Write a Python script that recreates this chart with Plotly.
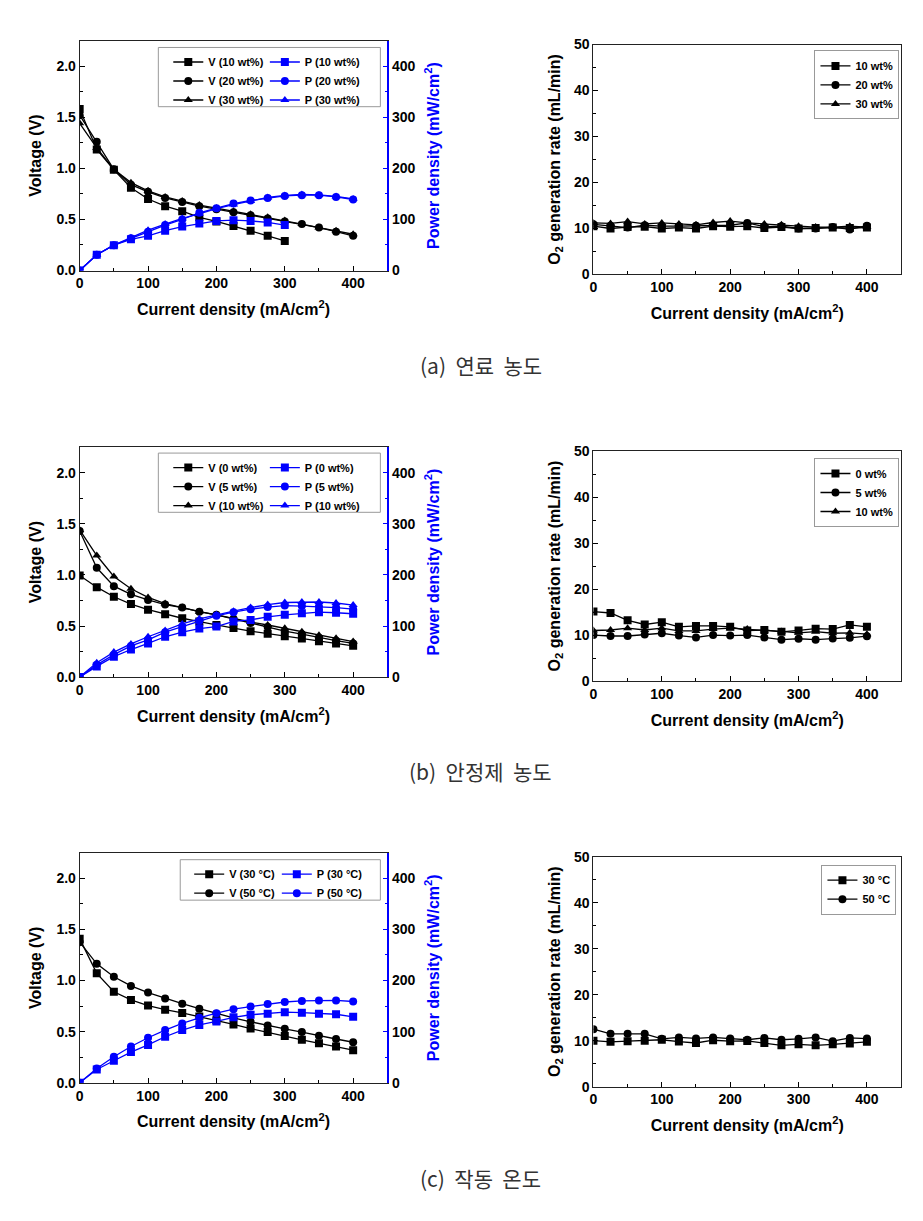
import plotly.graph_objects as go

W, H = 923, 1221

# ---------------- data ----------------
current = [0, 25, 50, 75, 100, 125, 150, 175, 200, 225, 250, 275, 300, 325, 350, 375, 400]
current_short = [0, 25, 50, 75, 100, 125, 150, 175, 200, 225, 250, 275, 300]

# (a) fuel concentration
a_labels = ["10 wt%", "20 wt%", "30 wt%"]
a_V10 = [1.58, 1.185, 0.985, 0.81, 0.70, 0.63, 0.58, 0.52, 0.48, 0.435, 0.39, 0.34, 0.29]
a_V20 = [1.52, 1.26, 0.99, 0.84, 0.77, 0.71, 0.67, 0.63, 0.60, 0.57, 0.54, 0.51, 0.48, 0.455, 0.42, 0.38, 0.34]
a_V30 = [1.44, 1.20, 0.99, 0.86, 0.78, 0.72, 0.68, 0.64, 0.61, 0.58, 0.55, 0.52, 0.49, 0.455, 0.42, 0.39, 0.355]
a_P10 = [0, 31, 49.6, 61, 68, 78, 86, 92, 97, 98.5, 97, 94, 89]
a_P20 = [0, 31, 49.6, 63, 76, 89, 100, 113, 122, 131, 137, 142, 146, 147.5, 147.5, 144, 139]
a_P30 = [0, 31, 49.6, 64, 79, 91, 102, 111, 121, 129, 136, 143, 147, 149, 148, 145, 140]
a_O10 = [10.5, 10.0, 10.3, 10.4, 10.0, 10.2, 10.0, 10.5, 10.4, 10.5, 10.1, 10.3, 10.0, 10.1, 10.2, 10.1, 10.2]
a_O20 = [10.9, 10.6, 10.2, 10.7, 10.5, 10.5, 10.6, 10.6, 10.7, 11.2, 10.4, 10.5, 10.0, 10.0, 10.3, 9.8, 10.6]
a_O30 = [11.2, 11.1, 11.5, 11.0, 11.2, 11.0, 10.8, 11.3, 11.6, 11.2, 11.0, 10.8, 10.5, 10.3, 10.3, 10.5, 10.3]

# (b) stabilizer concentration
b_labels = ["0 wt%", "5 wt%", "10 wt%"]
b_V0 = [0.995, 0.88, 0.786, 0.715, 0.66, 0.615, 0.576, 0.544, 0.51, 0.48, 0.45, 0.425, 0.40, 0.377, 0.35, 0.33, 0.306]
b_V5 = [1.43, 1.07, 0.89, 0.81, 0.755, 0.71, 0.68, 0.64, 0.61, 0.57, 0.53, 0.49, 0.45, 0.42, 0.386, 0.357, 0.33]
b_V10 = [1.44, 1.19, 0.985, 0.865, 0.78, 0.72, 0.68, 0.64, 0.61, 0.573, 0.54, 0.51, 0.477, 0.444, 0.41, 0.38, 0.348]
b_P0 = [0, 21, 40, 54, 66, 79, 88, 95, 99, 109, 112, 118, 122, 125, 127, 126, 124]
b_P5 = [0, 24, 44, 61, 73, 88, 99, 110, 120, 127, 133, 137, 140, 139, 138, 136, 133]
b_P10 = [0, 28, 49, 65, 79, 91, 104, 114, 122, 129, 136, 142, 146, 147, 147, 145, 141]
b_O0 = [15.1, 14.8, 13.2, 12.3, 12.8, 11.8, 12.0, 12.0, 11.8, 11.0, 11.1, 10.7, 11.0, 11.4, 11.3, 12.2, 11.8]
b_O5 = [10.0, 9.8, 9.8, 10.1, 10.4, 9.9, 9.5, 10.0, 9.9, 10.0, 9.5, 9.0, 9.2, 9.0, 9.25, 9.4, 9.75]
b_O10 = [11.0, 11.1, 11.5, 11.1, 11.5, 10.9, 10.9, 11.3, 11.5, 11.3, 11.0, 10.8, 10.5, 10.75, 10.4, 10.5, 10.2]

# (c) operating temperature
c_labels = ["30 °C", "50 °C"]
c_V30 = [1.41, 1.07, 0.89, 0.81, 0.755, 0.715, 0.683, 0.647, 0.612, 0.57, 0.53, 0.496, 0.457, 0.42, 0.386, 0.354, 0.319]
c_V50 = [1.375, 1.163, 1.037, 0.947, 0.882, 0.824, 0.773, 0.725, 0.676, 0.634, 0.596, 0.56, 0.528, 0.496, 0.46, 0.428, 0.396]
c_P30 = [0, 26, 43, 60, 74, 90, 103, 113, 120, 128, 133, 135, 138, 137, 135, 134, 129]
c_P50 = [0, 28, 51, 71, 88, 103, 116, 127, 136, 144, 149, 154, 158, 160, 161, 161, 159]
c_O30 = [10.0, 9.75, 9.9, 10.0, 10.2, 9.8, 9.5, 10.1, 9.9, 9.95, 9.5, 9.0, 9.2, 9.0, 9.2, 9.4, 9.75]
c_O50 = [12.5, 11.5, 11.5, 11.5, 10.4, 10.7, 10.5, 10.7, 10.45, 10.2, 10.6, 10.2, 10.4, 10.7, 9.9, 10.6, 10.45]

captions = ["(a) 연료 농도", "(b) 안정제 농도", "(c) 작동 온도"]

x_ticks = [0, 100, 200, 300, 400]
v_ticks = [0.0, 0.5, 1.0, 1.5, 2.0]
p_ticks = [0, 100, 200, 300, 400]
o_ticks = [0, 10, 20, 30, 40, 50]

# ---------------- style ----------------
FONT = "Liberation Sans, Arial, sans-serif"
BLACK = "#000000"
BLUE = "#0000FF"
SYMS = ["square", "circle", "triangle-up"]
MS = 8

fig = go.Figure()

def px_dom_y(top, bot):
    return [1 - bot / H, 1 - top / H]

def px_dom_x(left, right):
    return [left / W, right / W]

LEFT_X = px_dom_x(76, 385)
RIGHT_X = px_dom_x(592, 901)

def add_line(x, y, name, sym, color, xa, ya, legend):
    fig.add_trace(go.Scatter(
        x=x, y=y, name=name, mode="lines+markers",
        line=dict(color=color, width=1.3),
        marker=dict(symbol=sym, size=MS, color=color),
        xaxis=xa, yaxis=ya, legend=legend,
    ))

# panel (a)
for xs, v, lab, s in zip([current_short, current, current], [a_V10, a_V20, a_V30], a_labels, SYMS):
    add_line(xs, v, f"V ({lab})", s, BLACK, "x", "y", "legend")
for xs, p, lab, s in zip([current_short, current, current], [a_P10, a_P20, a_P30], a_labels, SYMS):
    add_line(xs, p, f"P ({lab})", s, BLUE, "x", "y7", "legend2")
for o, lab, s in zip([a_O10, a_O20, a_O30], a_labels, SYMS):
    add_line(current, o, lab, s, BLACK, "x2", "y2", "legend7")

# panel (b)
for v, lab, s in zip([b_V0, b_V5, b_V10], b_labels, SYMS):
    add_line(current, v, f"V ({lab})", s, BLACK, "x3", "y3", "legend3")
for p, lab, s in zip([b_P0, b_P5, b_P10], b_labels, SYMS):
    add_line(current, p, f"P ({lab})", s, BLUE, "x3", "y8", "legend4")
for o, lab, s in zip([b_O0, b_O5, b_O10], b_labels, SYMS):
    add_line(current, o, lab, s, BLACK, "x4", "y4", "legend8")

# panel (c)
for v, lab, s in zip([c_V30, c_V50], c_labels, SYMS):
    add_line(current, v, f"V ({lab})", s, BLACK, "x5", "y5", "legend5")
for p, lab, s in zip([c_P30, c_P50], c_labels, SYMS):
    add_line(current, p, f"P ({lab})", s, BLUE, "x5", "y9", "legend6")
for o, lab, s in zip([c_O30, c_O50], c_labels, SYMS):
    add_line(current, o, lab, s, BLACK, "x6", "y6", "legend9")

tickfont = dict(family=FONT, size=14, color=BLACK, weight="bold")
titlefont = dict(family=FONT, size=16, color=BLACK, weight="bold")

def xaxis(dom, anchor):
    return dict(
        domain=dom, anchor=anchor, range=[0, 450], tickvals=x_ticks,
        ticks="inside", ticklen=5, tickwidth=1, tickcolor=BLACK,
        minor=dict(ticks="inside", ticklen=3, dtick=50, tickcolor=BLACK),
        showline=True, linecolor="#222", linewidth=1, mirror=True,
        showgrid=False, zeroline=False, tickfont=tickfont,
        title=dict(text="Current density (mA/cm<sup>2</sup>)", font=titlefont, standoff=13),
    )

def vaxis(dom, anchor):
    return dict(
        domain=dom, anchor=anchor, range=[0, 2.25], tickvals=v_ticks, tickformat=".1f",
        ticks="inside", ticklen=5, tickcolor=BLACK,
        minor=dict(ticks="inside", ticklen=3, dtick=0.25, tickcolor=BLACK),
        showline=True, linecolor="#222", linewidth=1, mirror=False,
        showgrid=False, zeroline=False, tickfont=tickfont,
        title=dict(text="Voltage (V)", font=titlefont, standoff=10),
    )

def paxis(overlay, anchor):
    return dict(
        overlaying=overlay, anchor=anchor, side="right", range=[0, 450], tickvals=p_ticks,
        ticks="inside", ticklen=5, tickcolor=BLUE,
        minor=dict(ticks="inside", ticklen=3, dtick=50, tickcolor=BLUE),
        showline=True, linecolor=BLUE, linewidth=1.5,
        showgrid=False, zeroline=False,
        tickfont=dict(family=FONT, size=14, color=BLACK, weight="bold"),
        title=dict(text="Power density (mW/cm<sup>2</sup>)",
                   font=dict(family=FONT, size=16, color=BLUE, weight="bold"), standoff=13),
    )

def oaxis(dom, anchor):
    return dict(
        domain=dom, anchor=anchor, range=[0, 50], tickvals=o_ticks,
        ticks="inside", ticklen=5, tickcolor=BLACK,
        minor=dict(ticks="inside", ticklen=3, dtick=5, tickcolor=BLACK),
        showline=True, linecolor="#222", linewidth=1, mirror=True,
        showgrid=False, zeroline=False, tickfont=tickfont,
        title=dict(text="O<sub>2</sub> generation rate (mL/min)", font=titlefont, standoff=9),
    )

A_L, A_R = px_dom_y(33, 266), px_dom_y(37, 270)
B_L, B_R = px_dom_y(445, 678), px_dom_y(449, 682)
C_L, C_R = px_dom_y(856, 1089), px_dom_y(860, 1093)

legfont = dict(family=FONT, size=11, color=BLACK, weight="bold")

def leg(xpx, ypx, border=False):
    d = dict(x=xpx / W, y=1 - ypx / H, xanchor="left", yanchor="top",
             font=legfont, bgcolor="rgba(0,0,0,0)", itemwidth=30,
             tracegroupgap=0, traceorder="normal")
    if border:
        d.update(bordercolor="#999999", borderwidth=1)
    else:
        d.update(borderwidth=0)
    return d

fig.update_layout(
    width=W, height=H, margin=dict(l=0, r=0, t=0, b=0),
    paper_bgcolor="white", plot_bgcolor="white", showlegend=True,
    xaxis=xaxis(LEFT_X, "y"), yaxis=vaxis(A_L, "x"), yaxis7=paxis("y", "x"),
    xaxis2=xaxis(RIGHT_X, "y2"), yaxis2=oaxis(A_R, "x2"),
    xaxis3=xaxis(LEFT_X, "y3"), yaxis3=vaxis(B_L, "x3"), yaxis8=paxis("y3", "x3"),
    xaxis4=xaxis(RIGHT_X, "y4"), yaxis4=oaxis(B_R, "x4"),
    xaxis5=xaxis(LEFT_X, "y5"), yaxis5=vaxis(C_L, "x5"), yaxis9=paxis("y5", "x5"),
    xaxis6=xaxis(RIGHT_X, "y6"), yaxis6=oaxis(C_R, "x6"),
    legend=leg(165, 40), legend2=leg(262, 40),
    legend3=leg(165, 451), legend4=leg(262, 451),
    legend5=leg(186, 863), legend6=leg(274, 863),
    legend7=leg(814, 43, True), legend8=leg(814, 456, True), legend9=leg(821, 868, True),
)

# legend frames for the two-column legends
for top, bot, left in [(40, 100, 155), (451, 511, 155), (863, 904, 177)]:
    fig.add_shape(type="rect", xref="paper", yref="paper",
                  x0=left / W, x1=378 / W, y0=1 - bot / H, y1=1 - top / H,
                  line=dict(color="#999999", width=1), fillcolor="rgba(0,0,0,0)")

for cap, ypx in zip(captions, [362, 773, 1186]):
    fig.add_annotation(text=cap.replace(" ", "\u00a0\u00a0"), xref="paper", yref="paper",
                       x=479 / W, y=1 - ypx / H,
                       showarrow=False, xanchor="center", yanchor="middle",
                       font=dict(family="Noto Sans CJK KR", size=21, color="#333333"))

fig.write_html("out.html")
